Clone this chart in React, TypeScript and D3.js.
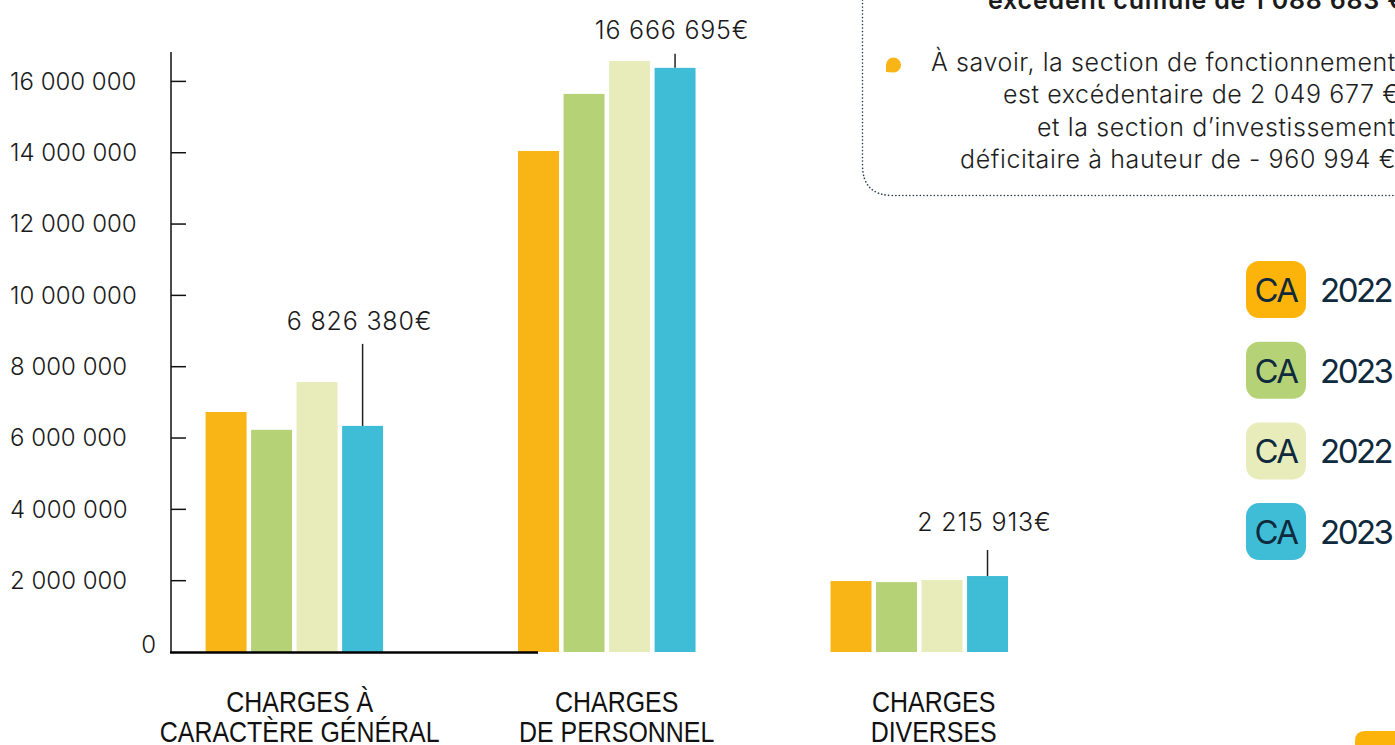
import React from "react";
import * as d3 from "d3";

const categories = ["CHARGES À|CARACTÈRE GÉNÉRAL", "CHARGES|DE PERSONNEL", "CHARGES|DIVERSES"];
const seriesNames = ["CA 2022", "CA 2023", "CA 2022 bis", "CA 2023 bis"];
const legendLabels = ["2022", "2023", "2022", "2023"];
const colors = ["#F9B515", "#B6D277", "#E7ECBA", "#40BDD6"];
const legendColors = ["#FCB40A", "#B6D277", "#E7ECBA", "#40BDD6"];
const values: number[][] = [
  [6730000, 6230000, 7570000, 6340000],
  [14050000, 15650000, 16570000, 16380000],
  [1990000, 1960000, 2020000, 2130000],
];
const annotations = ["6 826 380€", "16 666 695€", "2 215 913€"];
const yTicks = [0, 2000000, 4000000, 6000000, 8000000, 10000000, 12000000, 14000000, 16000000];
const boxLines = [
  "À savoir, la section de fonctionnement",
  "est excédentaire de 2 049 677 €",
  "et la section d’investissement",
  "déficitaire à hauteur de - 960 994 €",
];
const boxTitle = "excédent cumulé de 1 088 683 €";

const W = 1395;
const H = 745;
const numFont = "Inter, 'Noto Sans', sans-serif";
const catFont = "'Liberation Sans Narrow', 'Liberation Sans', Arial, sans-serif";

export default function App() {
  const y = d3.scaleLinear().domain([0, 16000000]).range([652, 81.4]);
  const x0 = d3.scaleBand<number>().domain(d3.range(categories.length)).range([205.6, 1008]).paddingInner(0.432).paddingOuter(0);
  const x1 = d3.scaleBand<number>().domain(d3.range(seriesNames.length)).range([0, x0.bandwidth()]).paddingInner(0.1).paddingOuter(0);
  const xLabel = d3.scalePoint<number>().domain(d3.range(categories.length)).range([299.7, 933.7]);
  const fmt = (v: number) => d3.format(",")(v).replace(/,/g, " ");
  const boxStarts = [931, 1003, 1037, 960];

  return (
    <svg width={W} height={H} style={{ position: "absolute", left: 0, top: 0, background: "#fff" }}>
      {/* Info box */}
      <path d="M862.5 0 V165 Q862.5 195.5 893 195.5 H1395" fill="none" stroke="#2b3a4e" strokeWidth={1.6} strokeDasharray="0.1 3.4" strokeLinecap="round" />
      <text x={988} y={9} fontFamily={numFont} fontSize={25} fontWeight={600} letterSpacing={0.8} fill="#1b1b1b">{boxTitle}</text>
      <path d="M886 72 V65 A7.5 7.5 0 1 1 893.5 72.5 Z" fill="#F9B515" />
      {boxLines.map((t, i) => (
        <text key={i} x={boxStarts[i]} y={62 + i * 32.5} dy="0.35em" fontFamily={numFont} fontWeight={300} fontSize={25} letterSpacing={0.6} fill="#1e1e1e">{t}</text>
      ))}

      {/* Y axis */}
      <line x1={171} x2={171} y1={52} y2={653} stroke="#111" strokeWidth={1.5} />
      {yTicks.map((t) => (
        <g key={t}>
          {t > 0 && <line x1={171} x2={186} y1={y(t)} y2={y(t)} stroke="#111" strokeWidth={1.5} />}
          {t > 0 ? (
            <text x={10} y={y(t)} dy="0.35em" fontFamily={numFont} fontWeight={300} fontSize={24} fill="#1a1a1a">{fmt(t)}</text>
          ) : (
            <text x={156} y={y(t) - 7} dy="0.35em" textAnchor="end" fontFamily={numFont} fontWeight={300} fontSize={24} fill="#1a1a1a">0</text>
          )}
        </g>
      ))}

      {/* Bars */}
      {values.map((row, ci) => (
        <g key={ci} transform={`translate(${x0(ci)},0)`}>
          {row.map((v, si) => (
            <rect key={si} x={x1(si)} y={y(v)} width={x1.bandwidth()} height={y(0) - y(v)} fill={colors[si]} />
          ))}
        </g>
      ))}

      {/* X axis line */}
      <line x1={170} x2={538} y1={652.5} y2={652.5} stroke="#000" strokeWidth={2.5} />

      {/* Annotations */}
      {values.map((row, ci) => {
        const cx = (x0(ci) ?? 0) + (x1(3) ?? 0) + x1.bandwidth() / 2;
        const top = y(row[3]);
        return (
          <g key={ci}>
            <line x1={cx} x2={cx} y1={top - (ci === 1 ? 14 : ci === 0 ? 82 : 26)} y2={top} stroke="#222" strokeWidth={1.5} />
            <text x={cx - 3} y={top - (ci === 1 ? 38 : ci === 0 ? 105 : 54)} dy="0.35em" textAnchor="middle" fontFamily={numFont} fontWeight={300} fontSize={25} letterSpacing={0.8} fill="#1a1a1a">{annotations[ci]}</text>
          </g>
        );
      })}

      {/* Category labels */}
      {categories.map((c, ci) => {
        const cx = xLabel(ci) ?? 0;
        return (
          <g key={ci} transform={`translate(${cx},0) scale(0.86,1)`}>
            <text textAnchor="middle" fontFamily={catFont} fontSize={29} fill="#111">
              {c.split("|").map((l, li) => (
                <tspan key={li} x={0} y={712 + li * 30.5}>{l}</tspan>
              ))}
            </text>
          </g>
        );
      })}

      {/* Legend */}
      {legendLabels.map((l, i) => {
        const ty = 261 + i * 80.7;
        return (
          <g key={i}>
            <rect x={1246} y={ty} width={60} height={57} rx={13} fill={legendColors[i]} />
            <text x={1276} y={ty + 29} dy="0.36em" textAnchor="middle" fontFamily={numFont} fontSize={33} fill="#0f2a3d" letterSpacing={-1.5}>CA</text>
            <text x={1320} y={ty + 29} dy="0.36em" fontFamily={numFont} fontSize={33} fill="#0f2a3d" letterSpacing={-2.5}>{l}</text>
          </g>
        );
      })}

      {/* Corner tab */}
      <path d="M1355 745 V741 Q1355 731 1365 731 H1395 V745 Z" fill="#FCB40A" />
    </svg>
  );
}
